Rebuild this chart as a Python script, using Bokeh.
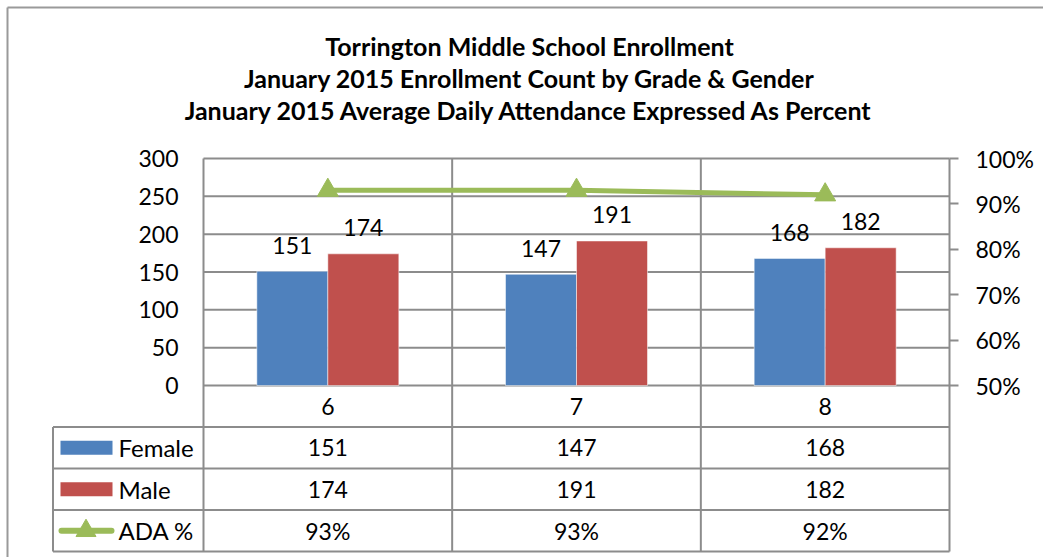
import numpy as np
from bokeh.plotting import figure
from bokeh.models import Range1d, LinearAxis, FixedTicker, PrintfTickFormatter
from bokeh.embed import file_html
from bokeh.resources import INLINE
from bokeh.core.properties import value

# ---------------- data ----------------
grades = ["6", "7", "8"]
female = [151, 147, 168]
male = [174, 191, 182]
ada_pct = [93, 93, 92]
series_names = ["Female", "Male", "ADA %"]
title_lines = [
    "Torrington Middle School Enrollment",
    "January 2015 Enrollment Count by Grade & Gender",
    "January 2015 Average Daily Attendance Expressed As Percent",
]
left_ticks = [0, 50, 100, 150, 200, 250, 300]
right_ticks = [50, 60, 70, 80, 90, 100]

# ---------------- style ----------------
FONT = "Lato"
FS = "23px"
GRID = "#8c8c8c"
BLUE = "#4F81BD"
RED = "#C0504D"
GREEN = "#9BBB59"

# ---------------- layout (canvas pixels) ----------------
W, H = 1043, 557
PLOT_L, PLOT_R = 203, 949
TOP300, ZERO_Y = 158, 385
ROW = 41.5
TBL_B = ZERO_Y + 4 * ROW
col_px = (PLOT_R - PLOT_L) / len(grades)
ppu_l = (ZERO_Y - TOP300) / (left_ticks[-1] - left_ticks[0])
ppu_r = (ZERO_Y - TOP300) / (right_ticks[-1] - right_ticks[0])


def X(px):
    return (px - PLOT_L) / col_px


def CNT(py):
    return (ZERO_Y - py) / ppu_l


def PCT(py):
    return right_ticks[0] + (ZERO_Y - py) / ppu_r


def TB(py):
    return (py - ZERO_Y) / ROW


p = figure(width=W, height=H, output_backend="svg", toolbar_location=None,
           x_range=Range1d(X(0), X(W)), y_range=Range1d(CNT(H), CNT(0)),
           x_axis_location=None, y_axis_location=None,
           min_border=0, min_border_left=0, min_border_right=0,
           min_border_top=0, min_border_bottom=0)
p.outline_line_color = None
p.grid.visible = False
p.extra_y_ranges = {"pct": Range1d(PCT(H), PCT(0)), "tbl": Range1d(TB(H), TB(0))}

n = len(grades)

# left axis (counts), drawn on the left edge of the plot area
la = LinearAxis(fixed_location=0, ticker=FixedTicker(ticks=left_ticks),
                bounds=(CNT(TBL_B), left_ticks[-1]))
# right axis (percent)
ra = LinearAxis(fixed_location=n, y_range_name="pct", ticker=FixedTicker(ticks=right_ticks),
                formatter=PrintfTickFormatter(format="%d%%"),
                bounds=(PCT(TBL_B), right_ticks[-1]))
for ax, tout, stand in ((la, 0, 25), (ra, 9, 17)):
    ax.major_tick_out = tout
    ax.major_tick_in = 0
    ax.minor_tick_out = 0
    ax.minor_tick_in = 0
    ax.major_tick_line_color = GRID
    ax.major_tick_line_width = 2
    ax.axis_line_color = GRID
    ax.axis_line_width = 2
    ax.major_label_standoff = stand
    ax.major_label_text_font = FONT
    ax.major_label_text_font_size = FS
    ax.major_label_text_color = "black"
p.add_layout(la, "left")
p.add_layout(ra, "right")

# horizontal gridlines over the plot area
p.segment(x0=[0] * len(left_ticks), y0=left_ticks, x1=[n] * len(left_ticks), y1=left_ticks,
          line_color=GRID, line_width=2)
# vertical category separators (plot + table)
bx = list(range(1, n))
p.segment(x0=bx, y0=[left_ticks[-1]] * len(bx), x1=bx, y1=[CNT(TBL_B)] * len(bx),
          line_color=GRID, line_width=2)

# bars
BW = 71 / col_px
centers = np.arange(n) + 0.5
xf = centers - BW / 2
xm = centers + BW / 2
p.vbar(x=xf, top=female, bottom=0, width=BW, fill_color=BLUE,
       line_color="white", line_alpha=0.5, line_width=1)
p.vbar(x=xm, top=male, bottom=0, width=BW, fill_color=RED,
       line_color="white", line_alpha=0.5, line_width=1)
lbl = dict(text_align="center", text_baseline="middle", y_offset=-26,
           text_font=value(FONT), text_font_size=FS, text_color="black")
p.text(x=xf, y=female, text=[str(v) for v in female], **lbl)
p.text(x=xm, y=male, text=[str(v) for v in male], **lbl)

# ADA line
p.line(x=centers, y=ada_pct, y_range_name="pct", line_color=GREEN, line_width=5)
p.scatter(x=centers, y=ada_pct, y_range_name="pct", marker="triangle", size=21,
          fill_color=GREEN, line_color=GREEN)

# title
p.text(x=[X(529)] * 3, y=[TB(45), TB(77), TB(109)], text=title_lines, y_range_name="tbl",
       text_align="center", text_baseline="middle", text_font=value(FONT),
       text_font_style="bold", text_font_size="25px", text_color="black")

# ---------------- data table ----------------
nrows = len(series_names)
leg_l = X(52.5)
hy = list(range(1, nrows + 2))
p.segment(x0=[leg_l] * len(hy), y0=hy, x1=[n] * len(hy), y1=hy, y_range_name="tbl",
          line_color=GRID, line_width=2)
p.segment(x0=[leg_l], y0=[1], x1=[leg_l], y1=[nrows + 1], y_range_name="tbl",
          line_color=GRID, line_width=2)

tkw = dict(text_align="center", text_baseline="middle", text_font=value(FONT),
           text_font_size=FS, text_color="black", y_range_name="tbl")
p.text(x=centers, y=[0.5] * n, text=grades, **tkw)
p.text(x=centers, y=[1.5] * n, text=[str(v) for v in female], **tkw)
p.text(x=centers, y=[2.5] * n, text=[str(v) for v in male], **tkw)
p.text(x=centers, y=[3.5] * n, text=[f"{v}%" for v in ada_pct], **tkw)

# legend keys
p.rect(x=[X(86)] * 2, y=[1.5, 2.5], width=52, height=14, width_units="screen",
       height_units="screen", fill_color=[BLUE, RED], line_color=None, y_range_name="tbl")
p.segment(x0=[X(61)], y0=[3.5], x1=[X(111)], y1=[3.5], y_range_name="tbl",
          line_color=GREEN, line_width=6, line_cap="round")
p.scatter(x=[X(85.5)], y=[3.5], y_range_name="tbl", marker="triangle", size=20,
          fill_color=GREEN, line_color=GREEN)
p.text(x=[X(118)] * nrows, y=[1.5, 2.5, 3.5], text=series_names, y_range_name="tbl",
       text_align="left", text_baseline="middle", text_font=value(FONT),
       text_font_size="24px", text_color="black")

# outer chart border (top and left edges visible in the window)
p.segment(x0=[X(7), X(7)], y0=[TB(7), TB(7)], x1=[X(W), X(7)], y1=[TB(7), TB(H)],
          y_range_name="tbl", line_color="#9a9a9a", line_width=2)

open("out.html", "w").write(file_html(p, INLINE))
